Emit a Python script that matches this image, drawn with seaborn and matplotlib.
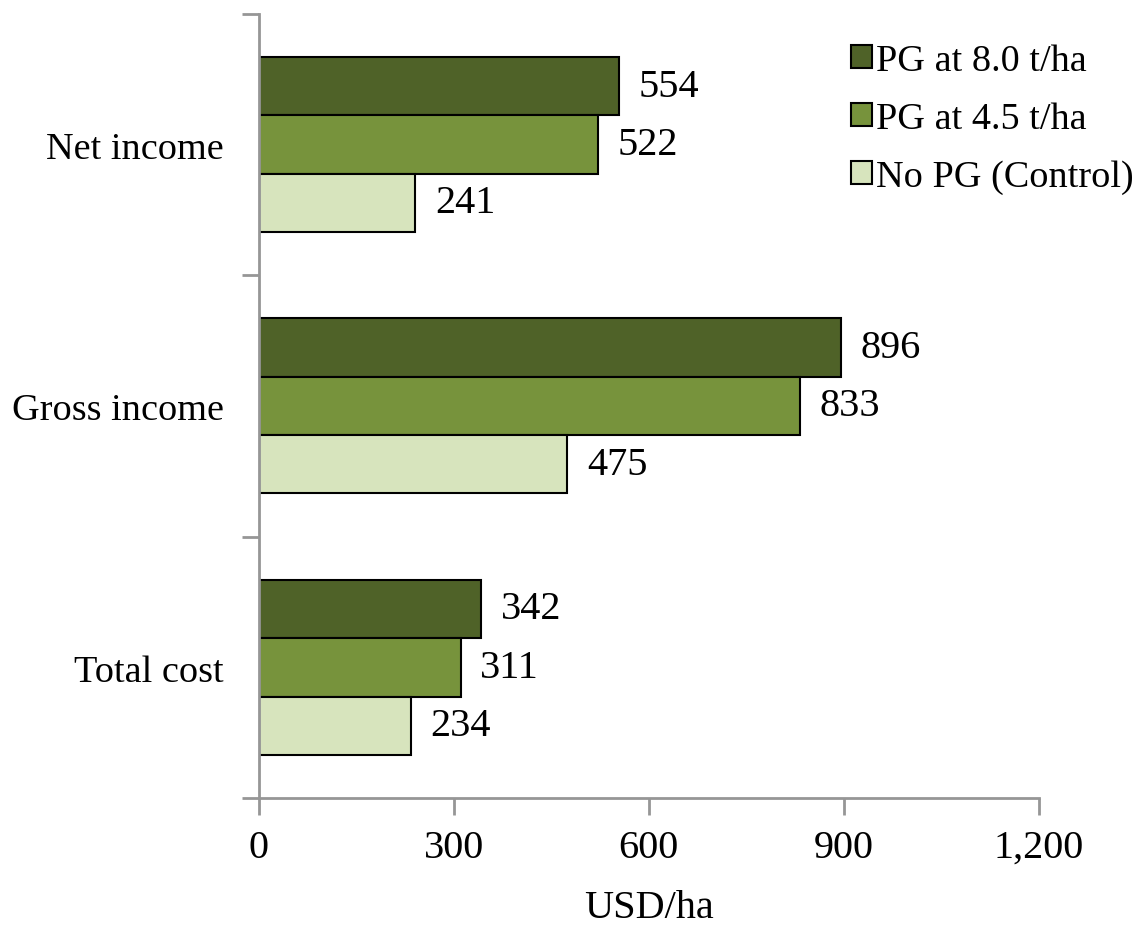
"""
Economic returns of PG application: horizontal grouped bars.
"""

import matplotlib.pyplot as plt
import pandas as pd
import seaborn as sns
from matplotlib.ticker import FixedLocator, FuncFormatter

categories = ["Net income", "Gross income", "Total cost"]
treatments = ["PG at 8.0 t/ha", "PG at 4.5 t/ha", "No PG (Control)"]
pg_8_0 = [554, 896, 342]
pg_4_5 = [522, 833, 311]
control = [241, 475, 234]
x_ticks = [0, 300, 600, 900, 1200]

_PALETTE = {
    "PG at 8.0 t/ha": "#4F6228",
    "PG at 4.5 t/ha": "#77933C",
    "No PG (Control)": "#D7E4BD",
}
_AXIS_GREY = "#969696"
_FS = 29

rows = []
for values, name in zip([pg_8_0, pg_4_5, control], treatments):
    for cat, v in zip(categories, values):
        rows.append({"category": cat, "treatment": name, "value": v})
df = pd.DataFrame(rows)

sns.set_style("white")
plt.rcParams["font.family"] = ["Liberation Serif", "DejaVu Serif"]
plt.rcParams["text.color"] = "black"
plt.rcParams["xtick.labelcolor"] = "black"
plt.rcParams["ytick.labelcolor"] = "black"
plt.rcParams["axes.labelcolor"] = "black"

fig, ax = plt.subplots(figsize=(11.35, 9.28), dpi=100)
fig.subplots_adjust(left=0.228, right=0.915, top=0.984, bottom=0.139)

sns.barplot(
    data=df, y="category", x="value", hue="treatment",
    order=categories, hue_order=treatments, palette=_PALETTE,
    orient="h", width=0.67, gap=0, saturation=1, edgecolor="black",
    linewidth=1.5, errorbar=None, ax=ax,
)

for container in ax.containers:
    ax.bar_label(container, fmt="%d", padding=14, fontsize=_FS)

ax.set_xlim(0, 1200)
ax.set_ylim(2.5, -0.5)
ax.xaxis.set_major_locator(FixedLocator(x_ticks))
ax.xaxis.set_major_formatter(FuncFormatter(lambda v, _: f"{int(v):,}"))
ax.yaxis.set_minor_locator(FixedLocator([-0.5, 0.5, 1.5, 2.5]))

ax.tick_params(axis="x", labelsize=_FS, length=12, width=2, color=_AXIS_GREY,
               direction="out", pad=10, bottom=True)
ax.tick_params(axis="y", which="major", labelsize=27.5, length=0, pad=25)
ax.tick_params(axis="y", which="minor", length=12, width=2, color=_AXIS_GREY,
               direction="out", left=True)

ax.set_xlabel("USD/ha", fontsize=_FS, labelpad=17)
ax.set_ylabel("")

sns.despine(ax=ax)
for side in ("left", "bottom"):
    ax.spines[side].set_color(_AXIS_GREY)
    ax.spines[side].set_linewidth(2)

ax.legend(
    loc="upper right", bbox_to_anchor=(1.142, 0.982), frameon=False,
    fontsize=27.5, handlelength=0.55, handleheight=0.55, handletextpad=0.12,
    labelspacing=0.62, borderaxespad=0,
)

fig.savefig("out.png", dpi=100)
plt.close(fig)
